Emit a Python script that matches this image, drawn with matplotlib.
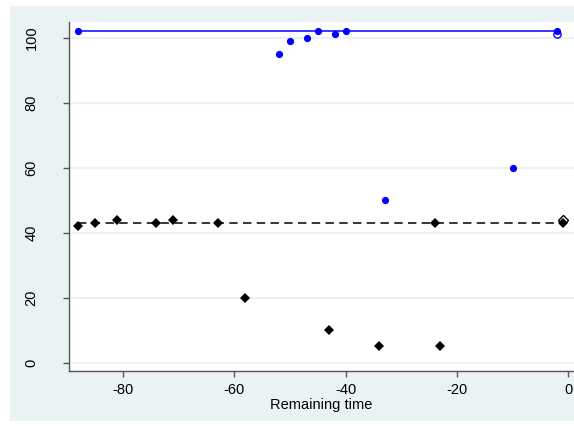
import matplotlib
matplotlib.use("Agg")
import matplotlib.pyplot as plt

plt.rcParams['font.family'] = ['Liberation Sans', 'DejaVu Sans']

# data
blue_x = [-88, -52, -50, -47, -45, -42, -40, -33, -10, -2]
blue_y = [102, 95, 99, 100, 102, 101, 102, 50, 60, 102]
blue_hollow_x = [-2]
blue_hollow_y = [101]
black_x = [-88, -85, -81, -74, -71, -63, -58, -43, -34, -24, -23, -1]
black_y = [42, 43, 44, 43, 44, 43, 20, 10, 5, 43, 5, 43]
black_hollow_x = [-1]
black_hollow_y = [44]
blue_line_y = 102
blue_line_span = [-88, -2]
black_line_y = 43
black_line_span = [-88, -1]
xticks = [-80, -60, -40, -20, 0]
yticks = [0, 20, 40, 60, 80, 100]
xlabel = "Remaining time"

W, H = 574, 426
fig = plt.figure(figsize=(W / 100, H / 100), dpi=100)
fig.patch.set_facecolor('white')
bg = '#EAF2F3'

bgax = fig.add_axes([10 / W, (H - 421) / H, (W - 10) / W, (421 - 6) / H])
bgax.set_facecolor(bg)
bgax.set_axis_off()
bgax.patch.set_visible(True)
bgax.add_patch(plt.Rectangle((0, 0), 1, 1, transform=bgax.transAxes,
                             facecolor=bg, edgecolor='none'))

ax = fig.add_axes([69.3 / W, (H - 371) / H, (W - 69.3) / W, (371 - 21.7) / H])
ax.set_facecolor('white')
ax.set_xlim(-89.65, 1.02)
ax.set_ylim(-2.55, 104.92)

for y in yticks:
    ax.axhline(y, color=bg, lw=1.5, zorder=1)

ax.plot(blue_line_span, [blue_line_y, blue_line_y], color='#0000FF', lw=1.1, zorder=2)
ax.plot(black_line_span, [black_line_y, black_line_y], color='black', lw=1.1,
        dashes=(5.5, 3.5), zorder=2)

ax.plot(black_hollow_x, black_hollow_y, linestyle='none', marker='D', markersize=5.3,
        markerfacecolor='white', markeredgecolor='black', markeredgewidth=1.0, zorder=3)
ax.plot(black_x, black_y, linestyle='none', marker='D', markersize=5.3,
        color='black', markeredgewidth=0, zorder=4)
ax.plot(blue_hollow_x, blue_hollow_y, linestyle='none', marker='o', markersize=5.2,
        markerfacecolor='white', markeredgecolor='#0000FF', markeredgewidth=1.0, zorder=3)
ax.plot(blue_x, blue_y, linestyle='none', marker='o', markersize=5.2,
        color='#0000FF', markeredgewidth=0, zorder=4)

for s in ['top', 'right']:
    ax.spines[s].set_visible(False)
for s in ['left', 'bottom']:
    ax.spines[s].set_color('#555555')
    ax.spines[s].set_linewidth(1.0)

ax.set_xticks(xticks)
ax.set_xticklabels([str(t) for t in xticks])
ax.set_yticks(yticks)
ax.set_yticklabels([str(t) for t in yticks], rotation=90, va='center')
ax.tick_params(axis='both', length=4, width=1.0, color='#555555', labelsize=10.5,
               labelcolor='black')
ax.tick_params(axis='x', pad=5)
ax.tick_params(axis='y', pad=18)
ax.set_xlabel(xlabel, fontsize=10.5, labelpad=0)

fig.savefig('out.png', dpi=100)
